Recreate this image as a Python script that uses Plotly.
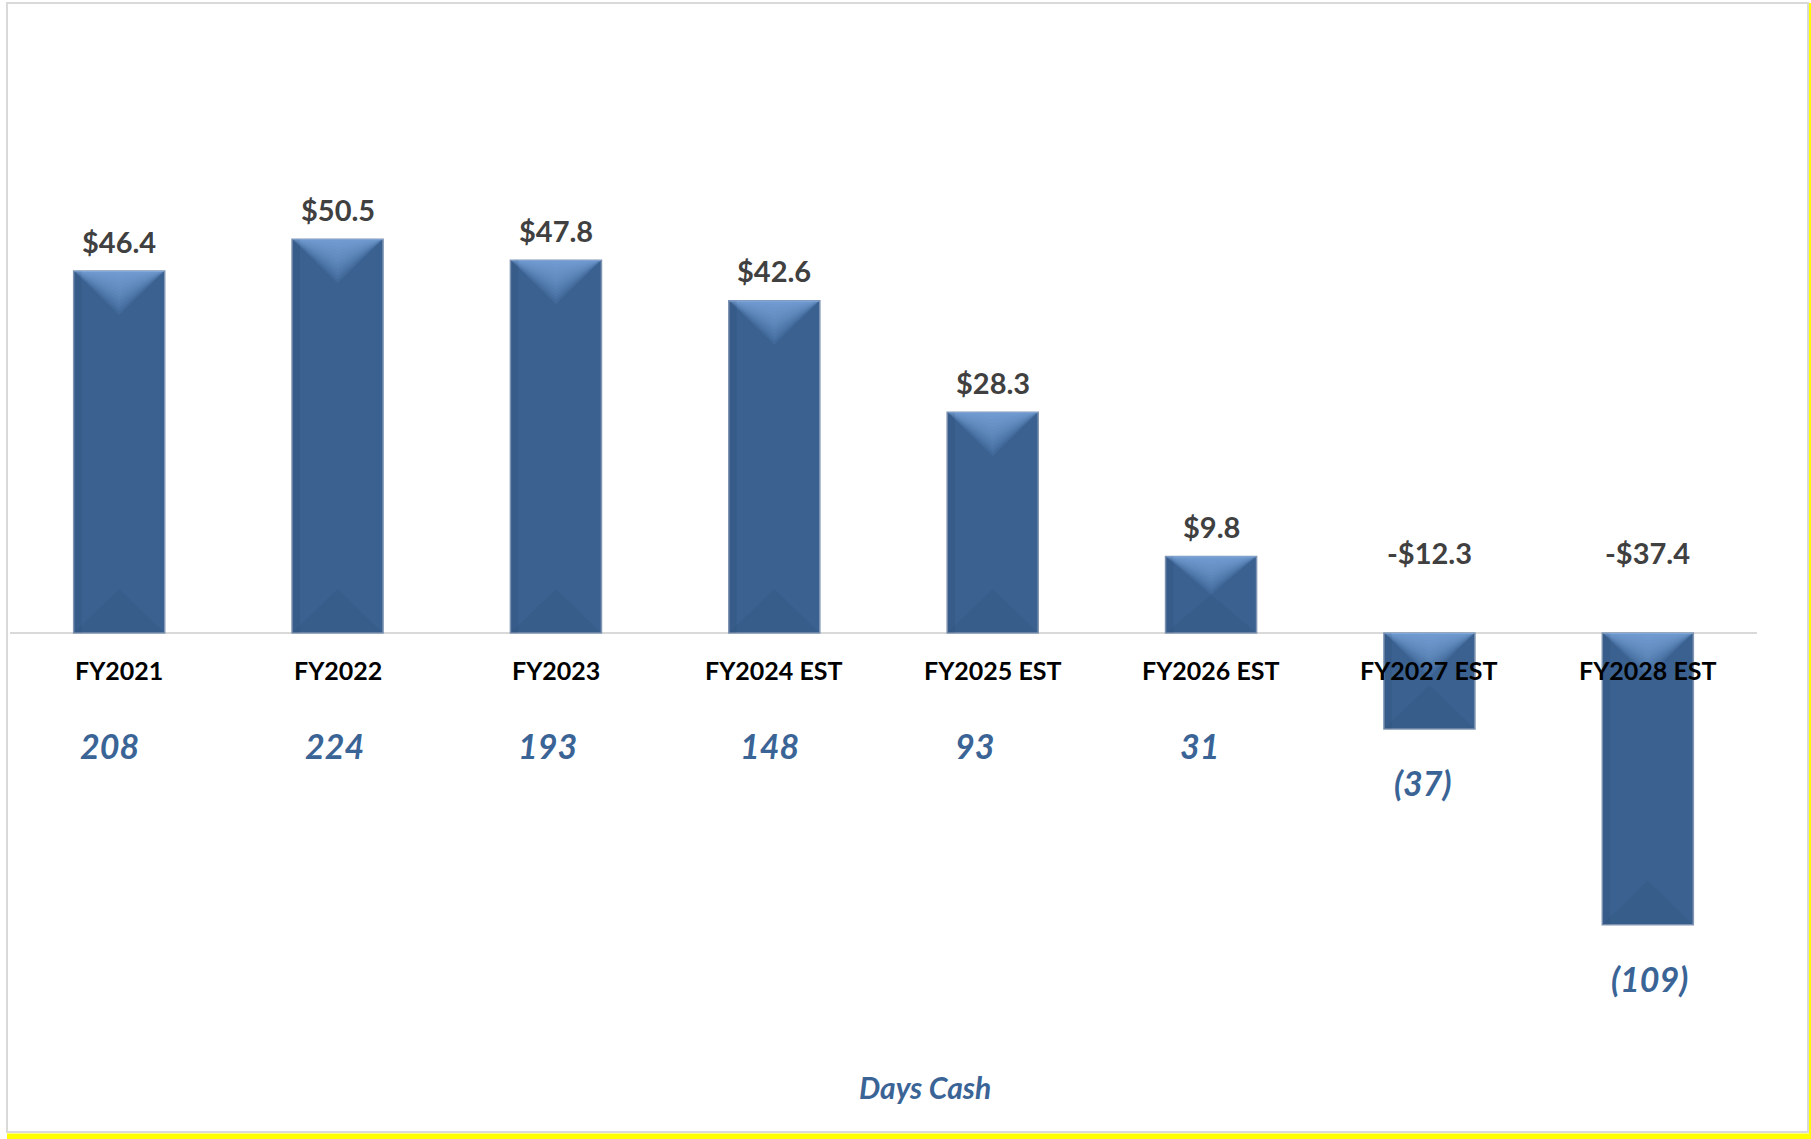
import plotly.graph_objects as go

# ---------------- data ----------------
categories = ["FY2021", "FY2022", "FY2023", "FY2024 EST", "FY2025 EST",
              "FY2026 EST", "FY2027 EST", "FY2028 EST"]
cash_mm = [46.4, 50.5, 47.8, 42.6, 28.3, 9.8, -12.3, -37.4]
days_cash = [208, 224, 193, 148, 93, 31, -37, -109]
days_title = "Days Cash"

# ---------------- style ----------------
W, H = 1811, 1139
M_L, M_R, M_T, M_B = 10, 54, 40, 110
plot_w = W - M_L - M_R
plot_h = H - M_T - M_B
Y_MIN, Y_MAX = -50.77, 76.03
units_per_px = (Y_MAX - Y_MIN) / plot_h
BAR_W = 0.417
BAR_COLOR = "#3A6190"
FONT = "Lato"
dx_days = [-10, -3, -8, -5, -18, -12, -6, 2]   # small horizontal label nudges (px)

xs = list(range(len(categories)))

fig = go.Figure()
fig.add_trace(go.Bar(
    x=xs, y=cash_mm, width=BAR_W,
    marker=dict(color=BAR_COLOR, line=dict(color="#8196B3", width=1.5)),
    hoverinfo="skip", showlegend=False,
))

# bevel effect overlays computed from the data values
def tri_path(depth_frac, where):
    px, py = [], []
    for i, v in zip(xs, cash_mm):
        top, bot = max(v, 0), min(v, 0)
        d = min(44 * units_per_px, abs(v) / 2) * depth_frac
        l, r = i - BAR_W / 2, i + BAR_W / 2
        if where == "top":
            px += [l, r, i, l, None]
            py += [top, top, top - d, top, None]
        else:
            px += [l, r, i, l, None]
            py += [bot, bot, bot + d, bot, None]
    return px, py

N_LAYERS = 12
for k in range(N_LAYERS):
    frac = 1.0 - k / N_LAYERS
    px, py = tri_path(frac, "top")
    fig.add_trace(go.Scatter(x=px, y=py, mode="lines", fill="toself",
                             fillcolor="rgba(140,185,240,0.09)",
                             line=dict(width=0), hoverinfo="skip",
                             showlegend=False))
px, py = tri_path(1.0, "bot")
fig.add_trace(go.Scatter(x=px, y=py, mode="lines", fill="toself",
                         fillcolor="rgba(25,50,85,0.07)",
                         line=dict(width=0), hoverinfo="skip", showlegend=False))

# left darker edge strip
sx, sy = [], []
for i, v in zip(xs, cash_mm):
    top, bot = max(v, 0), min(v, 0)
    l = i - BAR_W / 2
    for s in [0.012, 0.024, 0.036]:
        sx += [l, l + s, l + s, l, l, None]
        sy += [bot, bot, top, top, bot, None]
fig.add_trace(go.Scatter(x=sx, y=sy, mode="lines", fill="toself",
                         fillcolor="rgba(20,40,70,0.08)",
                         line=dict(width=0), hoverinfo="skip", showlegend=False))

annotations = []
for i, (cat, v, dc) in enumerate(zip(categories, cash_mm, days_cash)):
    txt = f"${v:.1f}" if v >= 0 else f"-${abs(v):.1f}"
    annotations.append(dict(
        x=i, y=max(v, 0), xref="x", yref="y", text=f"<b>{txt}</b>",
        showarrow=False, yshift=30 if v > 0 else 81,
        font=dict(family=FONT, size=29, color="#404040")))
    annotations.append(dict(
        x=i, y=0, xref="x", yref="y", text=f"<b>{cat}</b>",
        showarrow=False, yshift=-37,
        font=dict(family=FONT, size=25, color="#000000")))
    dtxt = f"{dc}" if dc >= 0 else f"({abs(dc)})"
    annotations.append(dict(
        x=i, y=min(v, 0), xref="x", yref="y", text=f"<b><i>{dtxt}</i></b>",
        showarrow=False, yshift=-112 if v > 0 else -54, xshift=dx_days[i],
        font=dict(family=FONT, size=34, color="#3A6496")))

annotations.append(dict(
    x=(925 - M_L) / plot_w, y=(M_T + plot_h - 1087) / plot_h,
    xref="paper", yref="paper", xanchor="center", yanchor="middle",
    text=f"<b><i>{days_title}</i></b>",
    showarrow=False, font=dict(family=FONT, size=30, color="#3A6496")))

def px2x(p):
    return (p - M_L) / plot_w

def px2y(p):
    return (M_T + plot_h - p) / plot_h

shapes = [
    dict(type="rect", xref="paper", yref="paper",
         x0=px2x(7), x1=px2x(1808), y0=px2y(1132), y1=px2y(3),
         line=dict(color="#D9D9D9", width=2), fillcolor="rgba(0,0,0,0)", layer="below"),
    dict(type="rect", xref="paper", yref="paper",
         x0=px2x(7), x1=px2x(1811), y0=px2y(1139), y1=px2y(1133.5),
         line=dict(width=0), fillcolor="#FFFF00", layer="below"),
    dict(type="rect", xref="paper", yref="paper",
         x0=px2x(1809), x1=px2x(1811), y0=px2y(1139), y1=px2y(3),
         line=dict(width=0), fillcolor="#FFFF00", layer="below"),
]

fig.update_layout(
    width=W, height=H,
    margin=dict(l=M_L, r=M_R, t=M_T, b=M_B, pad=0),
    paper_bgcolor="white", plot_bgcolor="white",
    xaxis=dict(range=[-0.5, len(categories) - 0.5], showticklabels=False,
               showgrid=False, zeroline=False, showline=False, fixedrange=True),
    yaxis=dict(range=[Y_MIN, Y_MAX], showticklabels=False, showgrid=False,
               zeroline=True, zerolinecolor="#D9D9D9", zerolinewidth=2,
               showline=False, fixedrange=True),
    annotations=annotations, shapes=shapes, showlegend=False,
)

fig.write_html(
    "out.html",
    config={"displayModeBar": False},
    post_script="document.body.style.margin='0';document.body.style.overflow='hidden';",
)
